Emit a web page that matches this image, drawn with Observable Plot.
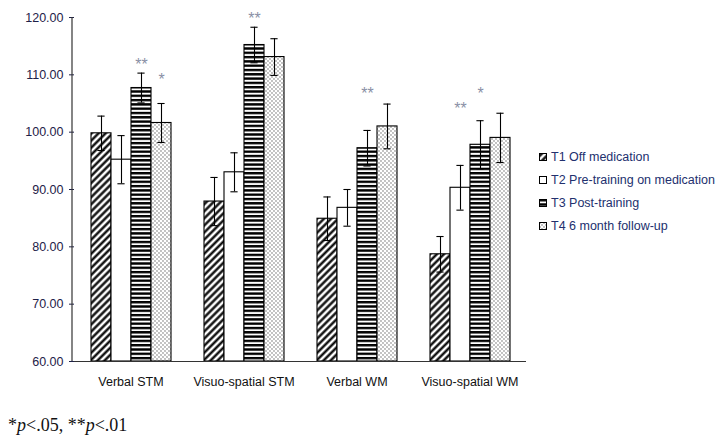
<!DOCTYPE html>
<html><head><meta charset="utf-8">
<script src="https://cdn.jsdelivr.net/npm/d3@7"></script>
<script src="https://cdn.jsdelivr.net/npm/@observablehq/plot@0.6"></script>
<style>
body{margin:0;background:#fff;}
#wrap{position:relative;width:720px;height:439px;font-family:"Liberation Sans",Arial,sans-serif;}
#legend{position:absolute;left:539px;top:146px;font-size:12.5px;color:#22306e;}
.row{height:22.8px;display:flex;align-items:center;white-space:nowrap;}
.row svg{margin-right:4px;}
#note{position:absolute;left:8px;top:415px;font-family:"Liberation Serif","Times New Roman",serif;font-size:18px;color:#111;}
</style></head><body>
<svg width="0" height="0" style="position:absolute">
<defs>
<pattern id="pT1" patternUnits="userSpaceOnUse" width="5" height="5" patternTransform="rotate(45)">
<rect width="5" height="5" fill="#fff"/><line x1="2.5" y1="0" x2="2.5" y2="5" stroke="#000" stroke-width="2.3"/>
</pattern>
<pattern id="pT3" patternUnits="userSpaceOnUse" width="4" height="4.3">
<rect width="4" height="4.3" fill="#fff"/><rect y="0" width="4" height="2.4" fill="#000"/>
</pattern>
<pattern id="pT4" patternUnits="userSpaceOnUse" width="4" height="4">
<rect width="4" height="4" fill="#fff"/><circle cx="1" cy="1" r="0.65" fill="#555"/><circle cx="3" cy="3" r="0.65" fill="#555"/>
</pattern>
</defs></svg>
<div id="wrap"><div id="chart"></div><div id="legend"></div>
<div id="note">*<i>p</i>&lt;.05, **<i>p</i>&lt;.01</div></div>
<script>
const groups = ["Verbal STM", "Visuo-spatial STM", "Verbal WM", "Visuo-spatial WM"];
const seriesKeys = ["T1", "T2", "T3", "T4"];
const seriesNames = ["T1 Off medication", "T2 Pre-training on medication", "T3 Post-training", "T4 6 month follow-up"];
const t1Mean = [99.8, 87.9, 84.9, 78.7];
const t1Err  = [3.0, 4.2, 3.8, 3.1];
const t2Mean = [95.2, 93.0, 86.8, 90.3];
const t2Err  = [4.2, 3.4, 3.2, 3.9];
const t3Mean = [107.7, 115.2, 97.2, 97.8];
const t3Err  = [2.6, 3.1, 3.1, 4.2];
const t4Mean = [101.6, 113.1, 101.0, 99.0];
const t4Err  = [3.4, 3.2, 3.9, 4.3];
const yTicks = [60, 70, 80, 90, 100, 110, 120];
const sigGroup = ["Verbal STM", "Verbal STM", "Visuo-spatial STM", "Verbal WM", "Visuo-spatial WM", "Visuo-spatial WM"];
const sigKey   = ["T3", "T4", "T3", "T3", "T2", "T3"];
const sigText  = ["**", "*", "**", "**", "**", "*"];
const sigY     = [111.8, 109.2, 119.8, 106.6, 104.0, 106.6];

const fills = {T1: "url(#pT1)", T2: "#ffffff", T3: "url(#pT3)", T4: "url(#pT4)"};
const means = [t1Mean, t2Mean, t3Mean, t4Mean];
const errs = [t1Err, t2Err, t3Err, t4Err];
const rows = [];
groups.forEach((g, gi) => seriesKeys.forEach((k, si) => rows.push({group: g, key: k, mean: means[si][gi], err: errs[si][gi]})));
const sig = sigGroup.map((g, i) => ({group: g, key: sigKey[i], text: sigText[i], y: sigY[i]}));

const mL = 72, mT = 17;
const plot = Plot.plot({
  width: 720, height: 400,
  marginLeft: mL, marginRight: 193, marginTop: mT, marginBottom: 39,
  style: {fontFamily: '"Liberation Sans", Arial, sans-serif', fontSize: "12.5px", color: "#1e2148", background: "transparent"},
  fx: {domain: groups, padding: 0, label: null, axis: "bottom", tickSize: 0, tickPadding: 16},
  x: {domain: seriesKeys, paddingInner: 0, paddingOuter: 0.74, axis: null},
  y: {domain: [60, 120], ticks: yTicks, tickFormat: d => d.toFixed(2), label: null, tickSize: 5, tickPadding: 6},
  color: {type: "identity"},
  marks: [
    Plot.barY(rows, {fx: "group", x: "key", y1: 60, y2: "mean", fill: d => fills[d.key], stroke: "#000", strokeWidth: 1.1}),
    Plot.ruleX(rows, {fx: "group", x: "key", y1: d => d.mean - d.err, y2: d => d.mean + d.err, stroke: "#000", strokeWidth: 1.1}),
    Plot.tickY(rows, {fx: "group", x: "key", y: d => d.mean - d.err, insetLeft: 6.4, insetRight: 6.4, stroke: "#000", strokeWidth: 1.1}),
    Plot.tickY(rows, {fx: "group", x: "key", y: d => d.mean + d.err, insetLeft: 6.4, insetRight: 6.4, stroke: "#000", strokeWidth: 1.1}),
    Plot.ruleY([60], {stroke: "#333", strokeWidth: 1.2}),
    Plot.text(sig, {fx: "group", x: "key", y: "y", text: "text", fill: "#8a8fa6", fontSize: 16})
  ]
});
// y-axis line using the plot's own y scale
const ys = plot.scale("y");
d3.select(plot).append("line")
  .attr("x1", mL).attr("x2", mL)
  .attr("y1", ys.apply(120)).attr("y2", ys.apply(60))
  .attr("stroke", "#333").attr("stroke-width", 1.2);
d3.select(plot).selectAll("g[aria-label='fx-axis tick label']").attr("fill", "#111");
document.getElementById("chart").appendChild(plot);

const leg = d3.select("#legend");
seriesNames.forEach((name, i) => {
  const row = leg.append("div").attr("class", "row");
  const s = row.append("svg").attr("width", 8).attr("height", 8);
  s.append("rect").attr("x", 0.5).attr("y", 0.5).attr("width", 7).attr("height", 7)
    .attr("fill", fills[seriesKeys[i]]).attr("stroke", "#000").attr("stroke-width", 1);
  row.append("span").text(name);
});
</script></body></html>
